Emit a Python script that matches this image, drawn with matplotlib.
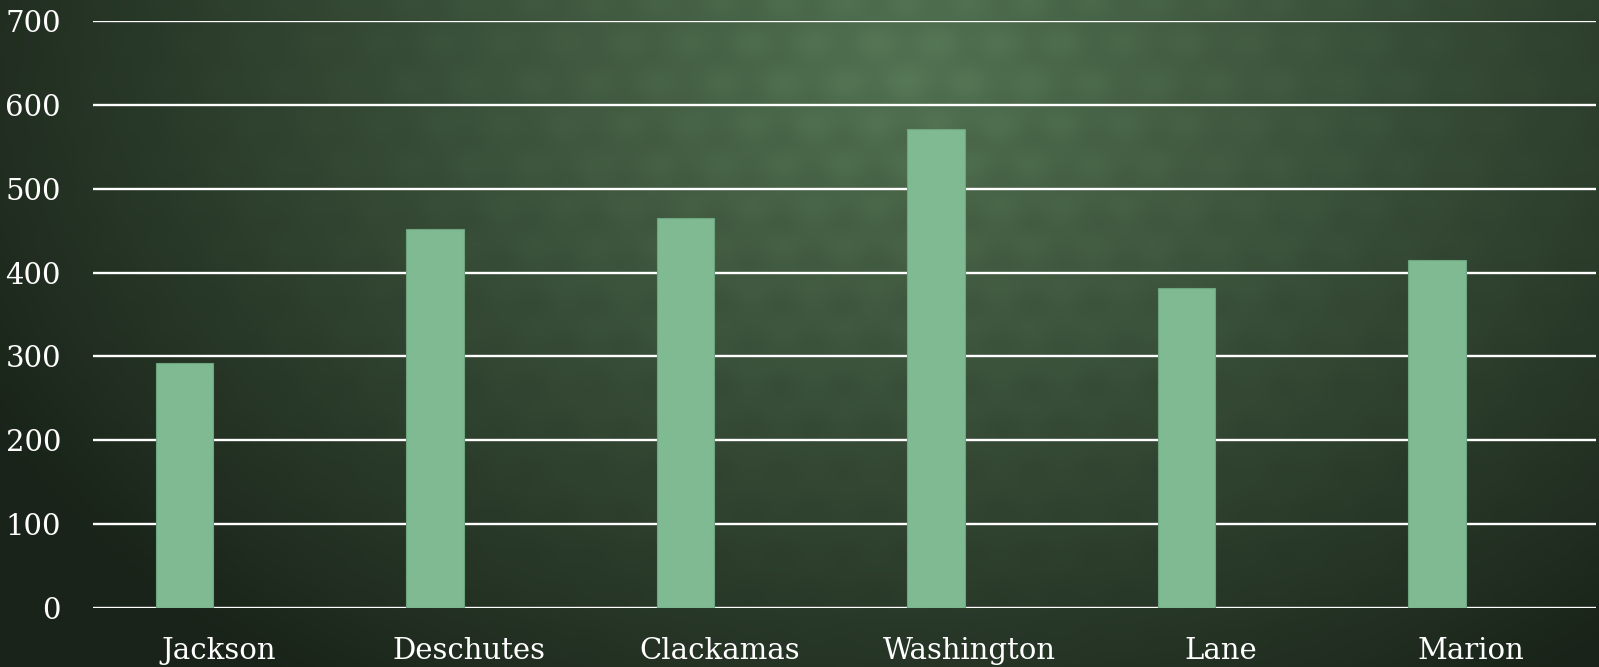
import numpy as np
import matplotlib
matplotlib.use("Agg")
import matplotlib.pyplot as plt

categories = ["Jackson", "Deschutes", "Clackamas", "Washington", "Lane", "Marion"]
values = [292, 452, 465, 571, 382, 415]
yticks = [0, 100, 200, 300, 400, 500, 600, 700]

W, H = 1599, 667
fig = plt.figure(figsize=(W / 100, H / 100), dpi=100)

# background: radial green gradient with a faint damask-like lattice
yy, xx = np.mgrid[0:H, 0:W]
cx, cy = 0.57 * W, 0.10 * H
d = np.sqrt(((xx - cx) / (0.66 * W)) ** 2 + ((yy - cy) / (1.15 * H)) ** 2)
t = np.clip(d, 0, 1) ** 1.0
c0 = np.array([82, 114, 82]) / 255.0
c1 = np.array([25, 35, 25]) / 255.0
img = c0[None, None, :] * (1 - t[..., None]) + c1[None, None, :] * t[..., None]
u = (xx + 0.8 * yy) * 2 * np.pi / 125.0
v = (xx - 0.8 * yy) * 2 * np.pi / 125.0
pat = np.sin(u) * np.sin(v) * np.cos(2 * np.pi * yy / 85.0)
img = img * (1 + 0.07 * pat[..., None] * (1 - t[..., None]))
img = np.clip(img, 0, 1)
bg = fig.add_axes([0, 0, 1, 1])
bg.imshow(img, aspect="auto", interpolation="bilinear")
bg.axis("off")

ax = fig.add_axes([93 / W, (H - 607.7) / H, 1503 / W, (607.7 - 21.3) / H])
ax.set_facecolor("none")
x = np.arange(len(categories))
ax.bar(x - 0.134, values, width=0.23, color="#7fba92", edgecolor="#6da57f",
       linewidth=0.8, zorder=3)
ax.set_xlim(-0.5, len(categories) - 0.5)
ax.set_ylim(0, 700)
ax.set_yticks(yticks)
ax.set_yticklabels([str(v) for v in yticks])
ax.set_xticks(x)
ax.set_xticklabels(categories)
ax.yaxis.grid(True, color="white", linewidth=1.7, zorder=2)
ax.set_axisbelow(True)
for s in ax.spines.values():
    s.set_visible(False)
ax.tick_params(axis="both", length=0, colors="white", labelsize=21)
ax.tick_params(axis="y", pad=23)
ax.tick_params(axis="x", pad=21)
for lab in ax.get_xticklabels() + ax.get_yticklabels():
    lab.set_family("DejaVu Serif")
    lab.set_color("white")

fig.savefig("out.png", dpi=100)
